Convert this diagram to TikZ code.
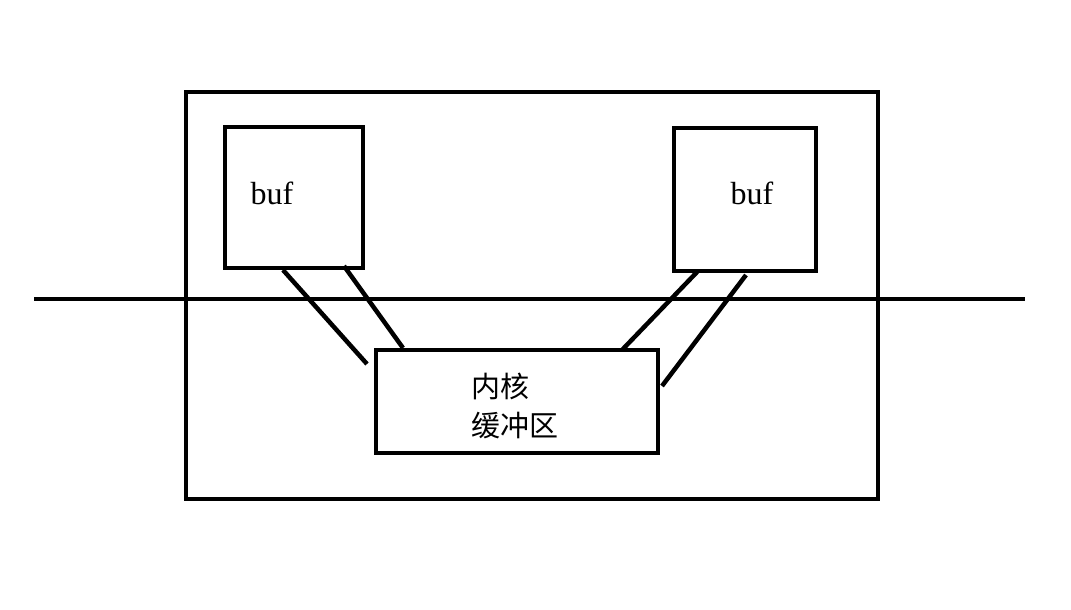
\documentclass[tikz,border=0pt]{standalone}
\usepackage{fontspec}
\setmainfont{Liberation Serif}
\newfontfamily\cjk{Noto Sans CJK SC}
\begin{document}
\begin{tikzpicture}[x=1pt,y=-1pt,
  box/.style={draw=black,line width=4.5pt,minimum width=#1,inner sep=0pt},
  wire/.style={draw=black,line width=4.5pt},
  lbl/.style={inner sep=0pt,font=\fontsize{32}{33}\selectfont},
  cn/.style={inner sep=0pt,anchor=west,font=\cjk\fontsize{29}{30}\selectfont}]
\useasboundingbox (0,0) rectangle (1071,610);
\node[box=692pt,minimum height=407pt] (outer) at (532,295.5) {};
\node[box=138pt,minimum height=141pt] (lbuf) at (294,197.5) {};
\node[box=142pt,minimum height=143pt] (rbuf) at (745,199.5) {};
\node[box=282pt,minimum height=103pt] (kern) at (517,401.5) {};
\node[lbl] (ltext) at (272,193) {buf};
\node[lbl] (rtext) at (752,193) {buf};
\node[cn] (k1) at (471,386) {内核};
\node[cn] (k2) at (471,426) {缓冲区};
\coordinate (hl) at (34,299);
\coordinate (hr) at (1025,299);
\draw[wire] (hl) -- (hr);
\coordinate (a1) at (283,270);
\coordinate (a2) at (367,364);
\coordinate (b1) at (344,266);
\coordinate (b2) at (403,348);
\coordinate (c1) at (698,271);
\coordinate (c2) at (622,350);
\coordinate (d1) at (746,275);
\coordinate (d2) at (662,386);
\draw[wire] (a1) -- (a2);
\draw[wire] (b1) -- (b2);
\draw[wire] (c1) -- (c2);
\draw[wire] (d1) -- (d2);
\end{tikzpicture}
\end{document}
